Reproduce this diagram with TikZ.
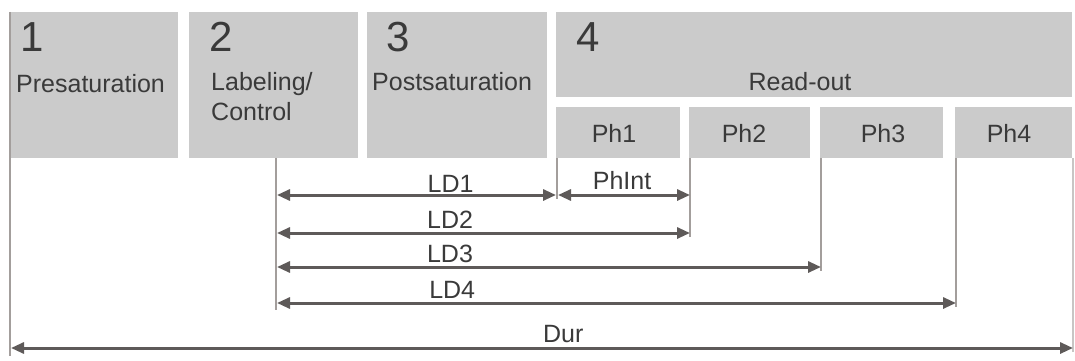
\documentclass[tikz,border=0pt]{standalone}
\usepackage{fontspec}
\setmainfont{Liberation Sans}
\usetikzlibrary{arrows.meta}
\definecolor{boxgray}{HTML}{CBCBCB}
\definecolor{txt}{HTML}{3A3A3A}
\definecolor{arr}{HTML}{5E5A59}
\definecolor{vline}{HTML}{A39E9C}
\begin{document}
\begin{tikzpicture}[x=1pt,y=-1pt,
  stagebox/.style={fill=boxgray,draw=none},
  bignum/.style={anchor=base west,inner sep=0pt,text=txt,font=\fontsize{42}{42}\selectfont},
  lbl/.style={inner sep=0pt,text=txt,font=\fontsize{25}{30}\selectfont},
  vert/.style={draw=vline,line width=2pt},
  dim/.style={draw=arr,line width=3pt,{Triangle[length=13pt,width=11pt]}-{Triangle[length=13pt,width=11pt]}},
  dimlbl/.style={lbl,anchor=base,yshift=5pt}]
\useasboundingbox[fill=white] (0,0) rectangle (1075,361);
% boxes
\path[stagebox] (11,12) rectangle (178,158);
\path[stagebox] (189,12) rectangle (358,158);
\path[stagebox] (367,12) rectangle (547,158);
\path[stagebox] (556,12) rectangle (1072,97);
\path[stagebox] (556,107) rectangle (680,158);
\path[stagebox] (689,107) rectangle (810,158);
\path[stagebox] (820,107) rectangle (943,158);
\path[stagebox] (955,107) rectangle (1072,158);
% texts in boxes
\node[bignum] (n1) at (20,52) {1};
\node[bignum] (n2) at (209,52) {2};
\node[bignum] (n3) at (386,52) {3};
\node[bignum] (n4) at (576,52) {4};
\node[lbl,anchor=base west] (t1) at (16,92) {Presaturation};
\node[lbl,anchor=base west] (t2a) at (211,90) {Labeling/};
\node[lbl,anchor=base west] (t2b) at (211,120) {Control};
\node[lbl,anchor=base west] (t3) at (372,90) {Postsaturation};
\node[lbl,anchor=base] (t4) at (800,90) {Read-out};
\node[lbl,anchor=base] (ph1) at (614,142) {Ph1};
\node[lbl,anchor=base] (ph2) at (744,142) {Ph2};
\node[lbl,anchor=base] (ph3) at (883,142) {Ph3};
\node[lbl,anchor=base] (ph4) at (1009,142) {Ph4};
% coordinates
\coordinate (v0t) at (10,12);   \coordinate (v0b) at (10,356);
\coordinate (vLt) at (276,158); \coordinate (vLb) at (276,310);
\coordinate (v1t) at (557,158); \coordinate (v1b) at (557,199);
\coordinate (v2t) at (690,158); \coordinate (v2b) at (690,237);
\coordinate (v3t) at (821,158); \coordinate (v3b) at (821,271);
\coordinate (v4t) at (956,158); \coordinate (v4b) at (956,307);
\coordinate (vRt) at (1073,158); \coordinate (vRb) at (1073,352);
\coordinate (a1s) at (277,195); \coordinate (a1e) at (556,195);
\coordinate (pis) at (558,195); \coordinate (pie) at (690,195);
\coordinate (a2s) at (277,233); \coordinate (a2e) at (690,233);
\coordinate (a3s) at (277,267); \coordinate (a3e) at (821,267);
\coordinate (a4s) at (277,303); \coordinate (a4e) at (956,303);
\coordinate (ds) at (11,348);   \coordinate (de) at (1073,348);
% vertical lines
\draw[vert] (v0t) -- (v0b);
\draw[vert] (vLt) -- (vLb);
\draw[vert] (v1t) -- (v1b);
\draw[vert] (v2t) -- (v2b);
\draw[vert] (v3t) -- (v3b);
\draw[vert] (v4t) -- (v4b);
\draw[vert,draw=vline!60] (vRt) -- (vRb);
% dimension arrows
\draw[dim] (a1s) -- node[dimlbl,pos=0.622,yshift=-2pt]{LD1} (a1e);
\draw[dim] (pis) -- node[dimlbl,pos=0.485,yshift=1pt]{PhInt} (pie);
\draw[dim] (a2s) -- node[dimlbl,pos=0.419]{LD2} (a2e);
\draw[dim] (a3s) -- node[dimlbl,pos=0.318]{LD3} (a3e);
\draw[dim] (a4s) -- node[dimlbl,pos=0.258]{LD4} (a4e);
\draw[dim] (ds) -- node[dimlbl,pos=0.52,yshift=1pt]{Dur} (de);
\end{tikzpicture}
\end{document}
